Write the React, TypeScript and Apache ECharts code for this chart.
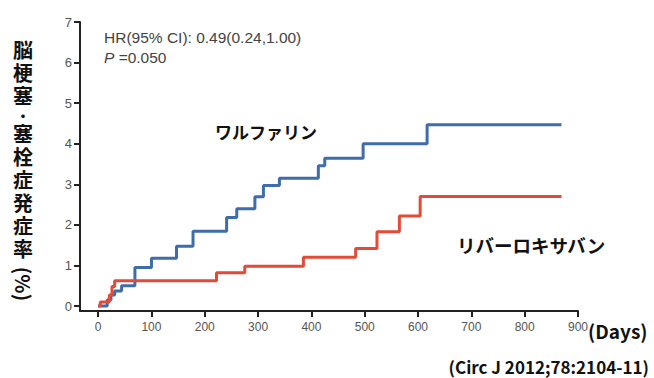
import React, { useEffect, useRef } from "react";
import * as echarts from "echarts";

// ---- data ----
const xTicks = [0, 100, 200, 300, 400, 500, 600, 700, 800, 900];
const yTicks = [0, 1, 2, 3, 4, 5, 6, 7];

const warfarinDays = [0, 17, 24, 31, 44, 69, 100, 147, 178, 241, 260, 294, 310, 340, 413, 425, 497, 617, 869];
const warfarinRate = [0, 0.15, 0.27, 0.37, 0.5, 0.95, 1.18, 1.47, 1.84, 2.18, 2.4, 2.69, 2.97, 3.15, 3.46, 3.64, 4.0, 4.47, 4.47];

const rivaroxabanDays = [0, 4, 21, 26, 31, 222, 275, 385, 483, 523, 565, 604, 869];
const rivaroxabanRate = [0, 0.1, 0.27, 0.48, 0.62, 0.82, 0.98, 1.2, 1.42, 1.83, 2.22, 2.7, 2.7];

const yTitleChars = ["脳", "梗", "塞", "・", "塞", "栓", "症", "発", "症", "率"];
const yTitleTail = "(%)";
const hrText = "HR(95% CI): 0.49(0.24,1.00)";
const pLabel = "P";
const pValue = " =0.050";
const warfarinName = "ワルファリン";
const rivaroxabanName = "リバーロキサバン";
const xUnit = "(Days)";
const citation = "(Circ J 2012;78:2104-11)";

const BLUE = "#3f6cab";
const RED = "#e34a37";
const SANS = "'Liberation Sans', Arial, sans-serif";
const JP = "'Noto Sans CJK JP', sans-serif";

export default function App() {
  const ref = useRef<HTMLDivElement>(null);

  useEffect(() => {
    document.body.style.margin = "0";
    if (!ref.current) return;
    const chart = echarts.init(ref.current, null, { renderer: "svg" });

    const titleRich = yTitleChars
      .map((c) => (c === "・" ? "{d|" + c + "}" : "{a|" + c + "}"))
      .join("\n");

    const option: any = {
      animation: false,
      backgroundColor: "#ffffff",
      grid: { left: 80, right: 76, top: 22, bottom: 67, containLabel: false },
      xAxis: {
        type: "value",
        min: -34,
        max: 900,
        axisLine: { show: true, onZero: false, lineStyle: { color: "#222", width: 2 } },
        axisTick: { show: true, length: 6, customValues: xTicks, lineStyle: { color: "#222", width: 2 } },
        axisLabel: {
          customValues: xTicks,
          margin: 10,
          fontSize: 12,
          color: "#555",
          fontFamily: SANS,
        },
        splitLine: { show: false },
      },
      yAxis: {
        type: "value",
        min: -0.123,
        max: 7,
        axisLine: { show: true, onZero: false, lineStyle: { color: "#222", width: 2 } },
        axisTick: { show: true, length: 6, customValues: yTicks, lineStyle: { color: "#222", width: 2 } },
        axisLabel: {
          customValues: yTicks,
          margin: 8,
          fontSize: 13,
          color: "#555",
          fontFamily: SANS,
        },
        splitLine: { show: false },
      },
      series: [
        {
          name: warfarinName,
          type: "line",
          step: "end",
          symbol: "none",
          lineStyle: { color: BLUE, width: 3 },
          data: warfarinDays.map((d, i) => [d, warfarinRate[i]]),
          z: 2,
        },
        {
          name: rivaroxabanName,
          type: "line",
          step: "end",
          symbol: "none",
          lineStyle: { color: RED, width: 3 },
          data: rivaroxabanDays.map((d, i) => [d, rivaroxabanRate[i]]),
          z: 3,
        },
      ],
      graphic: [
        {
          type: "text",
          style: {
            text: titleRich,
            x: 23,
            y: 38,
            align: "center",
            textAlign: "center",
            verticalAlign: "top",
            textVerticalAlign: "top",
            fontSize: 20,
            fontWeight: "bold",
            fontFamily: JP,
            fill: "#111",
            rich: {
              a: { fontSize: 20, lineHeight: 23, fontWeight: "bold", fontFamily: JP, fill: "#111" },
              d: { fontSize: 14, lineHeight: 15, fontWeight: "bold", fontFamily: JP, fill: "#111" },
            },
          },
        },
        {
          type: "text",
          x: 23,
          y: 284,
          rotation: -Math.PI / 2,
          style: {
            text: yTitleTail,
            x: 0,
            y: 0,
            align: "center",
            verticalAlign: "middle",
            textAlign: "center",
            textVerticalAlign: "middle",
            fontSize: 20,
            lineHeight: 20,
            fontWeight: "bold",
            fontFamily: JP,
            fill: "#111",
          },
        },
        {
          type: "text",
          style: {
            text: hrText,
            x: 104,
            y: 37,
            verticalAlign: "middle",
            textVerticalAlign: "middle",
            fontSize: 15.5,
            fontFamily: SANS,
            fill: "#444",
          },
        },
        {
          type: "text",
          style: {
            text: "{i|" + pLabel + "}" + pValue,
            x: 104,
            y: 57,
            verticalAlign: "middle",
            textVerticalAlign: "middle",
            fontSize: 15.5,
            fontFamily: SANS,
            fill: "#444",
            rich: { i: { fontStyle: "italic", fontSize: 15.5, fontFamily: SANS, fill: "#444" } },
          },
        },
        {
          type: "text",
          style: {
            text: warfarinName,
            x: 215,
            y: 131,
            verticalAlign: "middle",
            textVerticalAlign: "middle",
            fontSize: 17,
            fontWeight: "bold",
            fontFamily: JP,
            fill: "#111",
          },
        },
        {
          type: "text",
          style: {
            text: rivaroxabanName,
            x: 457,
            y: 245,
            verticalAlign: "middle",
            textVerticalAlign: "middle",
            fontSize: 18.5,
            fontWeight: "bold",
            fontFamily: JP,
            fill: "#111",
          },
        },
        {
          type: "text",
          style: {
            text: xUnit,
            x: 588,
            y: 330,
            verticalAlign: "middle",
            textVerticalAlign: "middle",
            fontSize: 19,
            fontWeight: "bold",
            fontFamily: JP,
            fill: "#111",
          },
        },
        {
          type: "text",
          style: {
            text: citation,
            x: 649,
            y: 366,
            align: "right",
            textAlign: "right",
            verticalAlign: "middle",
            textVerticalAlign: "middle",
            fontSize: 17,
            fontWeight: "bold",
            fontFamily: JP,
            fill: "#111",
          },
        },
      ],
    };

    chart.setOption(option);
    return () => chart.dispose();
  }, []);

  return (
    <div
      ref={ref}
      style={{ position: "absolute", left: 0, top: 0, width: 654, height: 378 }}
    />
  );
}
